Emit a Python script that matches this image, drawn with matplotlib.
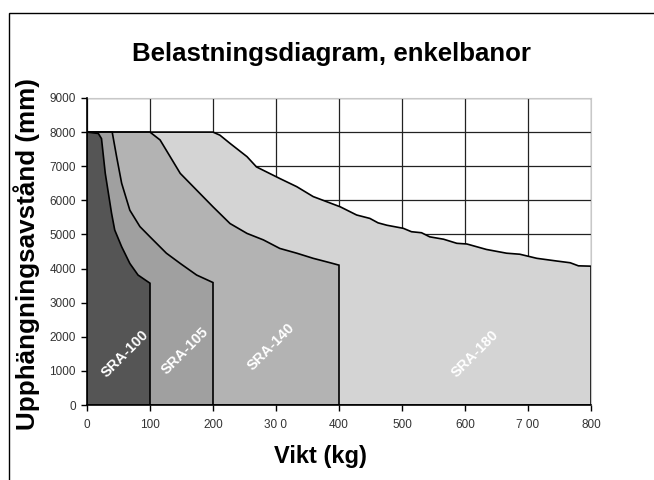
import matplotlib.pyplot as plt
import matplotlib.patches as patches

plt.rcParams['font.family'] = ['Liberation Sans', 'DejaVu Sans']

# upper boundary of each load area (kg, mm)
sra100_x = [0, 18, 23, 29, 39, 44, 55, 68, 81, 100]
sra100_y = [8000, 7960, 7810, 6790, 5620, 5130, 4640, 4150, 3810, 3570]

sra105_x = [0, 40, 47, 55, 68, 84, 100, 126, 148, 174, 200]
sra105_y = [8000, 8000, 7280, 6500, 5710, 5230, 4930, 4450, 4150, 3810, 3590]

sra140_x = [0, 100, 116, 132, 148, 174, 200, 227, 254, 280, 306, 333, 359, 386, 400]
sra140_y = [8000, 8000, 7770, 7280, 6790, 6300, 5810, 5320, 5030, 4840, 4590, 4450, 4300, 4170, 4100]

sra180_x = [0, 200, 211, 227, 254, 269, 306, 333, 359, 402, 428, 449, 462, 476, 502, 515,
            531, 544, 566, 587, 603, 634, 666, 687, 714, 746, 767, 780, 800]
sra180_y = [8000, 8000, 7910, 7670, 7280, 6980, 6640, 6400, 6110, 5810, 5570, 5470, 5340, 5270,
            5180, 5080, 5050, 4930, 4860, 4740, 4720, 4560, 4450, 4420, 4300, 4220, 4170, 4080, 4070]

names = ['SRA-180', 'SRA-140', 'SRA-105', 'SRA-100']
colors = ['#d4d4d4', '#b3b3b3', '#a0a0a0', '#555555']
label_pos = [(616, 1500), (293, 1700), (155, 1600), (60, 1500)]

xticks = [0, 100, 200, 300, 400, 500, 600, 700, 800]
xticklabels = ['0', '100', '200', '30 0', '400', '500', '600', '7 00', '800']
yticks = list(range(0, 9001, 1000))

fig = plt.figure(figsize=(6.54, 4.8), dpi=100)
ax = fig.add_axes([87/654, 1-405/480, (591-87)/654, (405-98)/480])

series = [(sra180_x, sra180_y), (sra140_x, sra140_y), (sra105_x, sra105_y), (sra100_x, sra100_y)]
for i, (xs, ys) in enumerate(series):
    px = list(xs) + [xs[-1], 0]
    py = list(ys) + [0, 0]
    ax.fill(px, py, facecolor=colors[i], edgecolor='black', linewidth=1.2, zorder=2 + i)
    lx, ly = label_pos[i]
    ax.text(lx, ly, names[i], color='white', fontsize=10.5, fontweight='bold',
            rotation=45, ha='center', va='center', zorder=10)

ax.set_xlim(0, 800)
ax.set_ylim(0, 9000)
ax.set_xticks(xticks)
ax.set_xticklabels(xticklabels)
ax.set_yticks(yticks)
ax.grid(True, color='#222222', linewidth=0.9)
ax.set_axisbelow(True)
ax.tick_params(direction='out', length=4, width=1, labelsize=8.5, labelcolor='#333333', pad=4)
ax.tick_params(axis='x', pad=6)
for s in ['top', 'right']:
    ax.spines[s].set_color('#c8c8c8')
for s in ['left', 'bottom']:
    ax.spines[s].set_color('black')
    ax.spines[s].set_linewidth(1.2)
    ax.spines[s].set_zorder(12)

fig.text(331/654, 1-54/480, 'Belastningsdiagram, enkelbanor', fontsize=18.6, fontweight='bold',
         ha='center', va='center')
fig.text(320/654, 1-457/480, 'Vikt (kg)', fontsize=17, fontweight='bold', ha='center', va='center')
fig.text(27/654, 1-254/480, 'Upphängningsavstånd (mm)', fontsize=18.7, fontweight='bold',
         rotation=90, ha='center', va='center')

fig.patches.append(patches.Rectangle((9/654, -0.1), 1.2, 1.1 - 13/480, transform=fig.transFigure,
                                     fill=False, edgecolor='black', linewidth=1))

fig.savefig('out.png', dpi=100)
